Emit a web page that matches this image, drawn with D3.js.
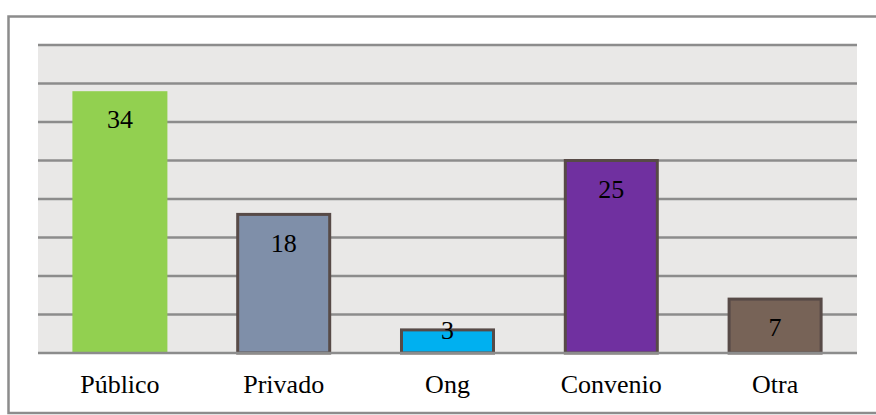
<!DOCTYPE html>
<html>
<head>
<meta charset="utf-8">
<script src="https://cdn.jsdelivr.net/npm/d3@7"></script>
<style>
  body { margin: 0; background: #fff; }
  svg { display: block; }
  text { font-family: "Liberation Serif", "DejaVu Serif", "Times New Roman", serif; }
</style>
</head>
<body>
<script>
// data
const categories = ["Público", "Privado", "Ong", "Convenio", "Otra"];
const values = [34, 18, 3, 25, 7];
const fills = ["#92D050", "#7F8FA9", "#00B0F0", "#7030A0", "#776357"];
const strokes = [null, "#574a47", "#574a47", "#574a47", "#574a47"];
const gridTicks = [0, 5, 10, 15, 20, 25, 30, 35, 40];

const width = 876, height = 415;
const plot = { left: 38, right: 857, top: 45, bottom: 353 };

const svg = d3.select("body").append("svg")
  .attr("width", width)
  .attr("height", height);

// outer frame
svg.append("rect")
  .attr("x", 8.5).attr("y", 16.5)
  .attr("width", 880).attr("height", 396.5)
  .attr("fill", "none")
  .attr("stroke", "#8c8c8c")
  .attr("stroke-width", 2.5);

// scales
const x = d3.scaleBand()
  .domain(categories)
  .range([plot.left, plot.right])
  .paddingInner(0.42)
  .paddingOuter(0.21);

const y = d3.scaleLinear()
  .domain([0, 40])
  .range([plot.bottom, plot.top]);

// plot background
svg.append("rect")
  .attr("x", plot.left).attr("y", plot.top)
  .attr("width", plot.right - plot.left)
  .attr("height", plot.bottom - plot.top)
  .attr("fill", "#E9E8E7");

// gridlines
svg.append("g")
  .selectAll("line")
  .data(gridTicks.filter(d => d > 0))
  .join("line")
  .attr("x1", plot.left).attr("x2", plot.right)
  .attr("y1", d => y(d)).attr("y2", d => y(d))
  .attr("stroke", "#8c8c8c")
  .attr("stroke-width", 2.5);

// bars
const rows = categories.map((c, i) => ({ c, v: values[i], fill: fills[i], stroke: strokes[i] }));

svg.append("g")
  .selectAll("rect")
  .data(rows)
  .join("rect")
  .attr("x", d => x(d.c) + (d.stroke ? 1.5 : 0))
  .attr("y", d => y(d.v))
  .attr("width", d => x.bandwidth() - (d.stroke ? 3 : 0))
  .attr("height", d => y(0) - y(d.v))
  .attr("fill", d => d.fill)
  .attr("stroke", d => d.stroke || "none")
  .attr("stroke-width", 3);

// baseline
svg.append("line")
  .attr("x1", plot.left).attr("x2", plot.right)
  .attr("y1", y(0)).attr("y2", y(0))
  .attr("stroke", "#8c8c8c")
  .attr("stroke-width", 2.5);

// value labels
svg.append("g")
  .selectAll("text")
  .data(rows)
  .join("text")
  .attr("x", d => x(d.c) + x.bandwidth() / 2)
  .attr("y", d => (y(0) - y(d.v) > 40 ? y(d.v) + 28 : y(d.v)))
  .attr("dy", "0.35em")
  .attr("text-anchor", "middle")
  .attr("font-size", 26)
  .attr("fill", "#000")
  .text(d => d.v);

// category labels
svg.append("g")
  .selectAll("text")
  .data(categories)
  .join("text")
  .attr("x", d => x(d) + x.bandwidth() / 2)
  .attr("y", 384)
  .attr("dy", "0.35em")
  .attr("text-anchor", "middle")
  .attr("font-size", 26)
  .attr("fill", "#000")
  .text(d => d);
</script>
</body>
</html>
